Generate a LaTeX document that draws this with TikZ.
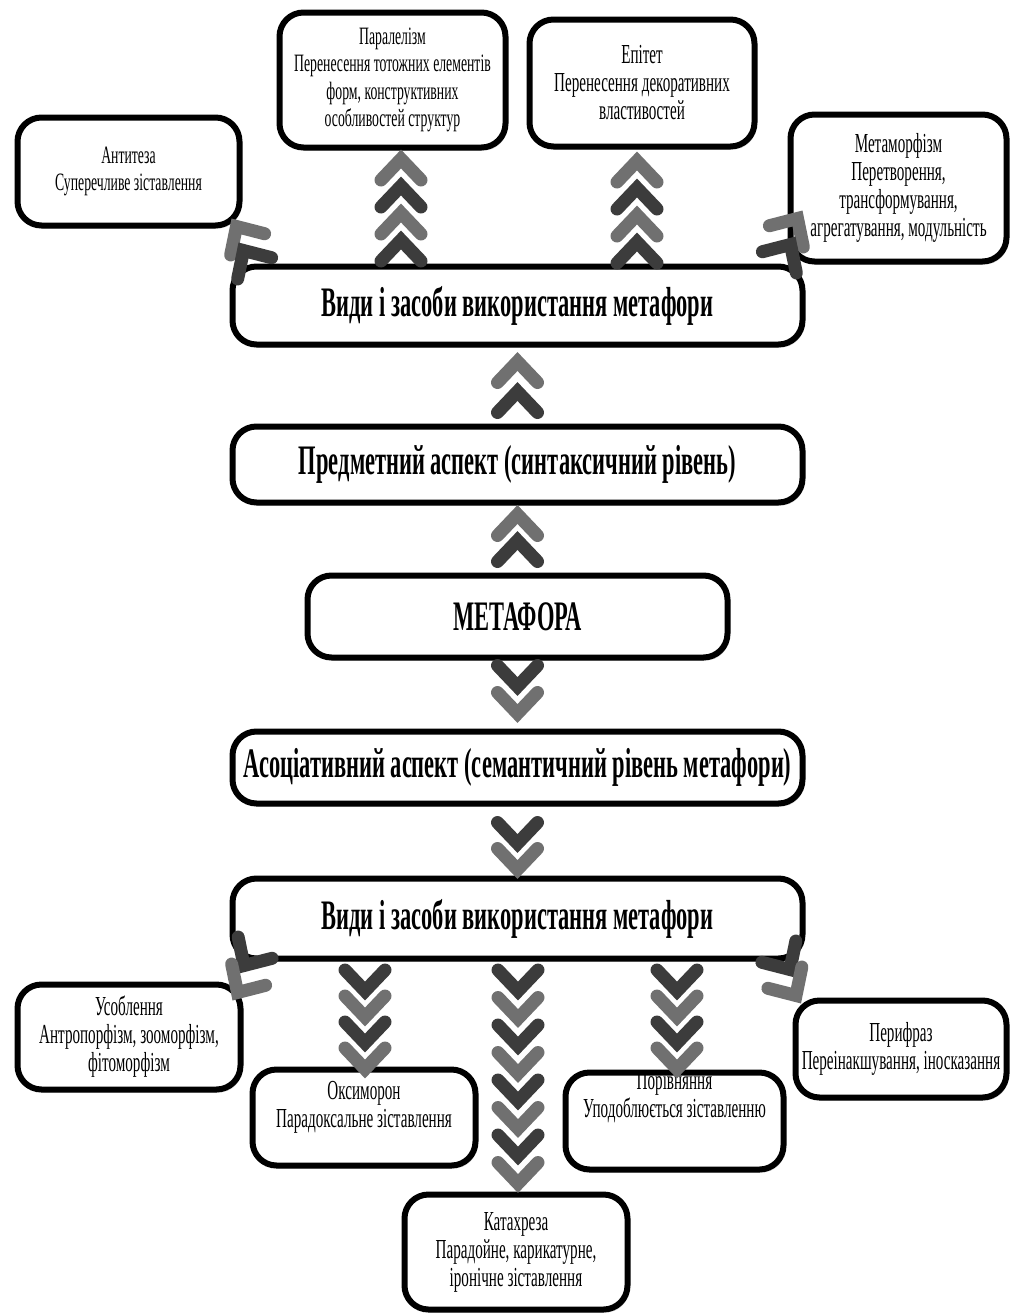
\documentclass[tikz,border=0pt]{standalone}
\usepackage{fontspec}
\setmainfont{Liberation Serif}[FakeStretch=0.55]
\newfontfamily\narrowbold{Liberation Serif}[FakeStretch=0.535]
\usetikzlibrary{shadows,calc}
\definecolor{chdark}{HTML}{3C3C3C}
\definecolor{chlight}{HTML}{707070}
\tikzset{
  box/.style={draw=black, line width=6pt, rounded corners=24pt, fill=white,
    drop shadow={shadow xshift=2pt, shadow yshift=-3pt, fill=black!30, opacity=0.5},
    inner sep=0pt, align=center},
  bigtxt/.style={font=\narrowbold\bfseries\fontsize{42}{46}\selectfont},
  smalltxt/.style={font=\fontsize{27.5}{28}\selectfont, align=center, inner sep=0pt},
  smallertxt/.style={font=\fontsize{25}{27.5}\selectfont, align=center, inner sep=0pt},
  pics/chevu/.style={code={\draw[line width=13pt, line cap=round, line join=miter, pic actions] (-20,21) -- (0,0) -- (20,21);}},
  pics/chevd/.style={code={\draw[line width=13pt, line cap=round, line join=miter, pic actions] (-20,-21) -- (0,0) -- (20,-21);}}
}
\begin{document}
\begin{tikzpicture}[x=1pt, y=-1pt]
\useasboundingbox (0,0) rectangle (1011,1315);
\fill[white] (0,0) rectangle (1011,1315);

% small boxes top
\node[box, smallertxt, minimum width=222pt, minimum height=108pt] (anti) at (128.5,171.5)
  {Антитеза\\Суперечливе зіставлення};
\node[box, smallertxt, minimum width=226pt, minimum height=135pt] (paral) at (392.5,80)
  {Паралелізм\\Перенесення тотожних елементів\\форм, конструктивних\\особливостей структур};
\node[box, smalltxt, minimum width=225pt, minimum height=127pt] (epit) at (642,83)
  {Епітет\\Перенесення декоративних\\властивостей};
\node[box, smalltxt, minimum width=216pt, minimum height=147pt] (metam) at (898.5,188)
  {Метаморфізм\\Перетворення,\\трансформування,\\агрегатування, модульність};

% main boxes
\node[box, bigtxt, minimum width=570pt, minimum height=78pt] (vid1) at (517.5,305.5)
  {Види і засоби використання метафори};
\node[box, bigtxt, minimum width=570pt, minimum height=76pt] (pred) at (517.5,464.5)
  {Предметний аспект (синтаксичний рівень)};
\node[box, bigtxt, minimum width=420pt, minimum height=82pt] (meta) at (517.5,616.5)
  {МЕТАФОРА};
\node[box, bigtxt, minimum width=570pt, minimum height=72pt] (asoc) at (517.5,767.5)
  {Асоціативний аспект (семантичний рівень метафори)};
\node[box, bigtxt, minimum width=570pt, minimum height=80pt] (vid2) at (517.5,918.5)
  {Види і засоби використання метафори};

% small boxes bottom
\node[box, smalltxt, minimum width=223pt, minimum height=105pt] (usob) at (129,1037)
  {Усоблення\\Антропорфізм, зооморфізм,\\фітоморфізм};
\node[box, minimum width=223pt, minimum height=96pt] (oksi) at (364,1117.5) {};
\node[smalltxt] (oksiT) at ($(oksi)+(0,-10)$) {Оксиморон\\Парадоксальне зіставлення};
\node[box, minimum width=218pt, minimum height=97pt] (poriv) at (674.5,1121) {};
\node[smalltxt] (porivT) at ($(poriv)+(0,-24)$) {Порівняння\\Уподоблюється зіставленню};
\node[box, smalltxt, minimum width=211pt, minimum height=97pt] (perif) at (901,1049)
  {Перифраз\\Переінакшування, іносказання};
\node[box, smalltxt, minimum width=223pt, minimum height=115pt] (kata) at (516,1252)
  {Катахреза\\Парадойне, карикатурне,\\іронічне зіставлення};

% chevron connectors: vid1 -> paral / epit
\foreach \y/\c in {0/chlight,27/chdark,54/chlight,81/chdark}{
  \pic[draw=\c] at ($(paral.south)+(8.5,8.5+\y)$) {chevu};
  \pic[draw=\c] at ($(epit.south)+(-5,11.5+\y)$) {chevu};
}
% vid1 -> anti / metam (corner chevrons)
\pic[draw=chlight, rotate=32] at ($(anti.south east)+(-6,-2)$) {chevu};
\pic[draw=chdark, rotate=32] at ($(anti.south east)+(1,22)$) {chevu};
\pic[draw=chlight, rotate=-32] at ($(metam.north west)+(10,107)$) {chevu};
\pic[draw=chdark, rotate=-32] at ($(metam.north west)+(3,133)$) {chevu};

% pred -> vid1
\pic[draw=chlight] at ($(vid1.south)+(0,14)$) {chevu};
\pic[draw=chdark] at ($(vid1.south)+(0,44)$) {chevu};
% meta -> pred
\pic[draw=chlight] at ($(pred.south)+(0,9)$) {chevu};
\pic[draw=chdark] at ($(pred.south)+(0,35)$) {chevu};
% meta -> asoc
\pic[draw=chdark] at ($(meta.south)+(0,26)$) {chevd};
\pic[draw=chlight] at ($(meta.south)+(0,53)$) {chevd};
% asoc -> vid2
\pic[draw=chdark] at ($(asoc.south)+(0,37)$) {chevd};
\pic[draw=chlight] at ($(asoc.south)+(0,63)$) {chevd};

% vid2 -> oksi / poriv
\foreach \y/\c in {0/chdark,26/chlight,52/chdark,78/chlight}{
  \pic[draw=\c] at ($(vid2.south)+(-152.5,29.5+\y)$) {chevd};
  \pic[draw=\c] at ($(vid2.south)+(159.5,29.5+\y)$) {chevd};
}
% vid2 -> kata
\foreach \i/\c in {0/chdark,1/chlight,2/chdark,3/chlight,4/chdark,5/chlight,6/chdark,7/chlight}{
  \pic[draw=\c] at ($(vid2.south)+(0.5,29.5+27.5*\i)$) {chevd};
}
% vid2 -> usob / perif (corner chevrons)
\pic[draw=chdark, rotate=-32] at ($(usob.north east)+(0.5,-16)$) {chevd};
\pic[draw=chlight, rotate=-32] at ($(usob.north east)+(-6,11)$) {chevd};
\pic[draw=chdark, rotate=32] at ($(perif.north west)+(-2.5,-28)$) {chevd};
\pic[draw=chlight, rotate=32] at ($(perif.north west)+(3.5,-2)$) {chevd};
\end{tikzpicture}
\end{document}
